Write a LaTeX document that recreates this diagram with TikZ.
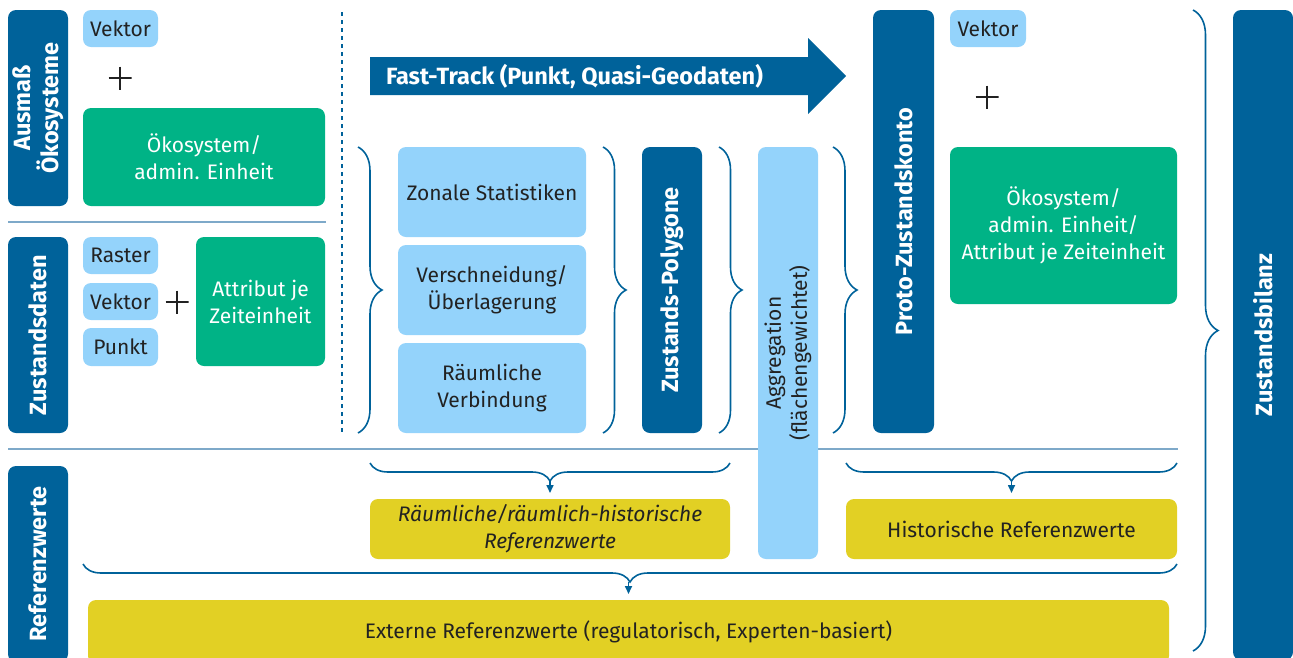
\documentclass[tikz,border=0pt]{standalone}
\usepackage{fontspec}
\IfFontExistsTF{FiraSans-SemiBold.otf}
  {\setmainfont{Fira Sans}[BoldFont=FiraSans-SemiBold.otf, BoldItalicFont=FiraSans-SemiBoldItalic.otf]}
  {\setmainfont{Fira Sans}}
\usetikzlibrary{positioning,calc,arrows.meta,decorations.pathreplacing}

\definecolor{dkblue}{HTML}{00629A}
\definecolor{ltblue}{HTML}{94D3FB}
\definecolor{ecogreen}{HTML}{00B386}
\definecolor{refyellow}{HTML}{E2D024}
\definecolor{sepcol}{HTML}{7EA9C9}
\definecolor{txtdark}{HTML}{222222}

\begin{document}
\begin{tikzpicture}[
    x=1pt, y=-1pt,
    every node/.style={inner sep=0pt, outer sep=0pt},
    bar/.style={fill=dkblue, rounded corners=8pt, text=white, rotate=90, align=center,
        font=\bfseries\fontsize{23.5}{28}\selectfont, minimum height=60pt},
    lbox/.style={fill=ltblue, rounded corners=8pt, text=txtdark, align=center,
        font=\fontsize{21}{27}\selectfont},
    gbox/.style={fill=ecogreen, rounded corners=8pt, text=white, align=center,
        font=\fontsize{21}{27}\selectfont},
    ybox/.style={fill=refyellow, rounded corners=8pt, text=txtdark, align=center,
        font=\fontsize{21}{27}\selectfont},
    plussign/.style={minimum size=23pt, path picture={
        \draw[txtdark, line width=1.5pt] (path picture bounding box.north) -- (path picture bounding box.south)
            (path picture bounding box.west) -- (path picture bounding box.east);}},
    brc/.style={draw=dkblue, line width=1.6pt, decorate, decoration={brace, amplitude=#1}},
    seprule/.style={draw=sepcol, line width=1.5pt},
    downarrow/.style={-{Triangle[width=7pt,length=8pt]}, draw=dkblue, line width=1.6pt, shorten >=6pt}
    ]
        \clip (0,0) rectangle (1293,657);

        % separators
        \draw[seprule] (8,222) -- (326,222);
        \draw[seprule] (8,449) -- (1178,449);
        \draw[dkblue, line width=1.3pt, dash pattern=on 4pt off 4pt] (342,12) -- (342,433);

        % row labels
        \node[bar, minimum width=196pt] (ausmass) at (38,108) {Ausmaß\\Ökosysteme};
        \node[bar, minimum width=196pt] (zdaten) at (38,335) {Zustandsdaten};
        \node[bar, minimum width=196pt] (refw) at (38,564) {Referenzwerte};

        % Ausmass
        \node[lbox, minimum width=75pt, minimum height=37pt] (vek1) at (120.5,28.5) {Vektor};
        \node[plussign] (plus1) at (120,78) {};
        \node[gbox, minimum width=242pt, minimum height=98pt] (oeko1) at (204,157) {Ökosystem/\\admin. Einheit};

        % Zustandsdaten
        \node[lbox, minimum width=75pt, minimum height=37pt] (raster) at (120.5,255.5) {Raster};
        \node[lbox, minimum width=75pt, minimum height=37pt, below=9pt of raster] (vek2) {Vektor};
        \node[lbox, minimum width=75pt, minimum height=38pt, below=8pt of vek2] (punkt) {Punkt};
        \node[plussign] (plus2) at (177,302) {};
        \node[gbox, minimum width=129pt, minimum height=129pt] (attr) at (260.5,301.5) {Attribut je\\Zeiteinheit};

        % fast track
        \fill[dkblue] (370,57) -- (808,57) -- (808,38) -- (846,76) -- (808,114) -- (808,95) -- (370,95) -- cycle;
        \node[anchor=west, text=white, font=\bfseries\fontsize{23.5}{28}\selectfont] (fast) at (386,76) {Fast-Track (Punkt, Quasi-Geodaten)};

        % methods
        \node[lbox, minimum width=188pt, minimum height=90pt] (zonal) at (492,192) {Zonale Statistiken};
        \node[lbox, minimum width=188pt, minimum height=90pt, below=8pt of zonal] (versch) {Verschneidung/\\Überlagerung};
        \node[lbox, minimum width=188pt, minimum height=90pt, below=8pt of versch] (raeuml) {Räumliche\\Verbindung};

        \node[bar, minimum width=286pt] (zpoly) at (672,290) {Zustands-Polygone};
        \node[bar, fill=ltblue, text=txtdark, font=\fontsize{21}{26}\selectfont, minimum width=412pt] (aggr) at (788,353) {Aggregation\\(flächengewichtet)};
        \node[bar, minimum width=423pt, minimum height=61pt] (proto) at (903.5,221.5) {Proto-Zustandskonto};
        \node[bar, minimum width=650pt] (zbil) at (1263,335) {Zustandsbilanz};

        % konto
        \node[lbox, minimum width=76pt, minimum height=37pt] (vek3) at (988,28.5) {Vektor};
        \node[plussign] (plus3) at (987,97) {};
        \node[gbox, minimum width=227pt, minimum height=157pt] (oeko2) at (1063.5,225.5) {Ökosystem/\\admin. Einheit/\\Attribut je Zeiteinheit};

        % reference values
        \node[ybox, minimum width=360pt, minimum height=60pt, font=\itshape\fontsize{21}{27}\selectfont] (rvbox) at (550,529) {Räumliche/räumlich-historische\\Referenzwerte};
        \node[ybox, minimum width=331pt, minimum height=60pt] (hist) at (1011.5,529) {Historische Referenzwerte};
        \node[ybox, minimum width=1081pt, minimum height=64pt] (extern) at (628.5,632) {Externe Referenzwerte (regulatorisch, Experten-basiert)};

        % braces
        \draw[brc=24pt] (358,147) -- (358,433);
        \draw[brc=23pt] (603,147) -- (603,433);
        \draw[brc=23pt] (719,147) -- (719,433);
        \draw[brc=24pt] (833,147) -- (833,433);
        \draw[brc=25pt] (1193,10) -- (1193,651);
        \draw[brc=18pt] (730,463) -- (370,463);
        \draw[brc=18pt] (1177,463) -- (846,463);
        \draw[brc=18pt] (1177,564) -- (83,564);

        \coordinate (tip1) at ($(rvbox.north)+(0,-18)$);
        \coordinate (tip2) at ($(hist.north)+(0,-18)$);
        \coordinate (tip3) at ($(extern.north)+(0,-18)$);
        \draw[downarrow] (tip1) -- (rvbox);
        \draw[downarrow] (tip2) -- (hist);
        \draw[downarrow] (tip3) -- (extern);

\end{tikzpicture}
\end{document}
